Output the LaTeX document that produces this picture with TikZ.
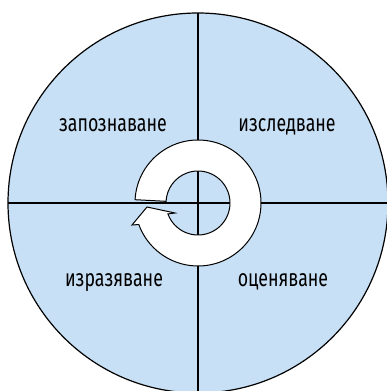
\documentclass[tikz,border=0pt]{standalone}
\usepackage{fontspec}
\usetikzlibrary{calc}
\setmainfont[Script=Cyrillic,Language=Bulgarian,FakeStretch=0.74]{Fira Sans}
\definecolor{quad}{RGB}{200,224,245}
\begin{document}
\begin{tikzpicture}[x=1pt,y=1pt,
  lbl/.style={font=\fontsize{24}{26}\selectfont, anchor=base, inner sep=0pt},
  divider/.style={line width=1.8pt, black},
  ringarrow/.style={fill=white, draw=black, line width=1pt, line join=miter}]
\useasboundingbox (0,0) rectangle (387,391);
\coordinate (c) at (198,188);
\begin{scope}
\clip (0,0) rectangle (387,391);
\fill[quad, draw=black, line width=1.2pt] (c) circle (190);
\coordinate (top) at (198,378);
\coordinate (bot) at (198,-2);
\coordinate (lft) at (8,188);
\coordinate (rgt) at (388,188);
\draw[divider] (top) -- (bot);
\draw[divider] (lft) -- (rgt);
\filldraw[ringarrow] ($(c)+(177:63)$) arc[start angle=177, end angle=-160, radius=63]
  -- ($(c)+(-66,-22)$) -- ($(c)+(-51,-4)$) -- ($(c)+(-23,-10)$)
  -- ($(c)+(-160:32)$) arc[start angle=-160, end angle=177, radius=32] -- cycle;
\end{scope}
\node[lbl] (t1) at (113,259) {запознаване};
\node[lbl] (t2) at (287,259) {изследване};
\node[lbl] (t3) at (114,104) {изразяване};
\node[lbl] (t4) at (283,104) {оценяване};
\end{tikzpicture}
\end{document}
